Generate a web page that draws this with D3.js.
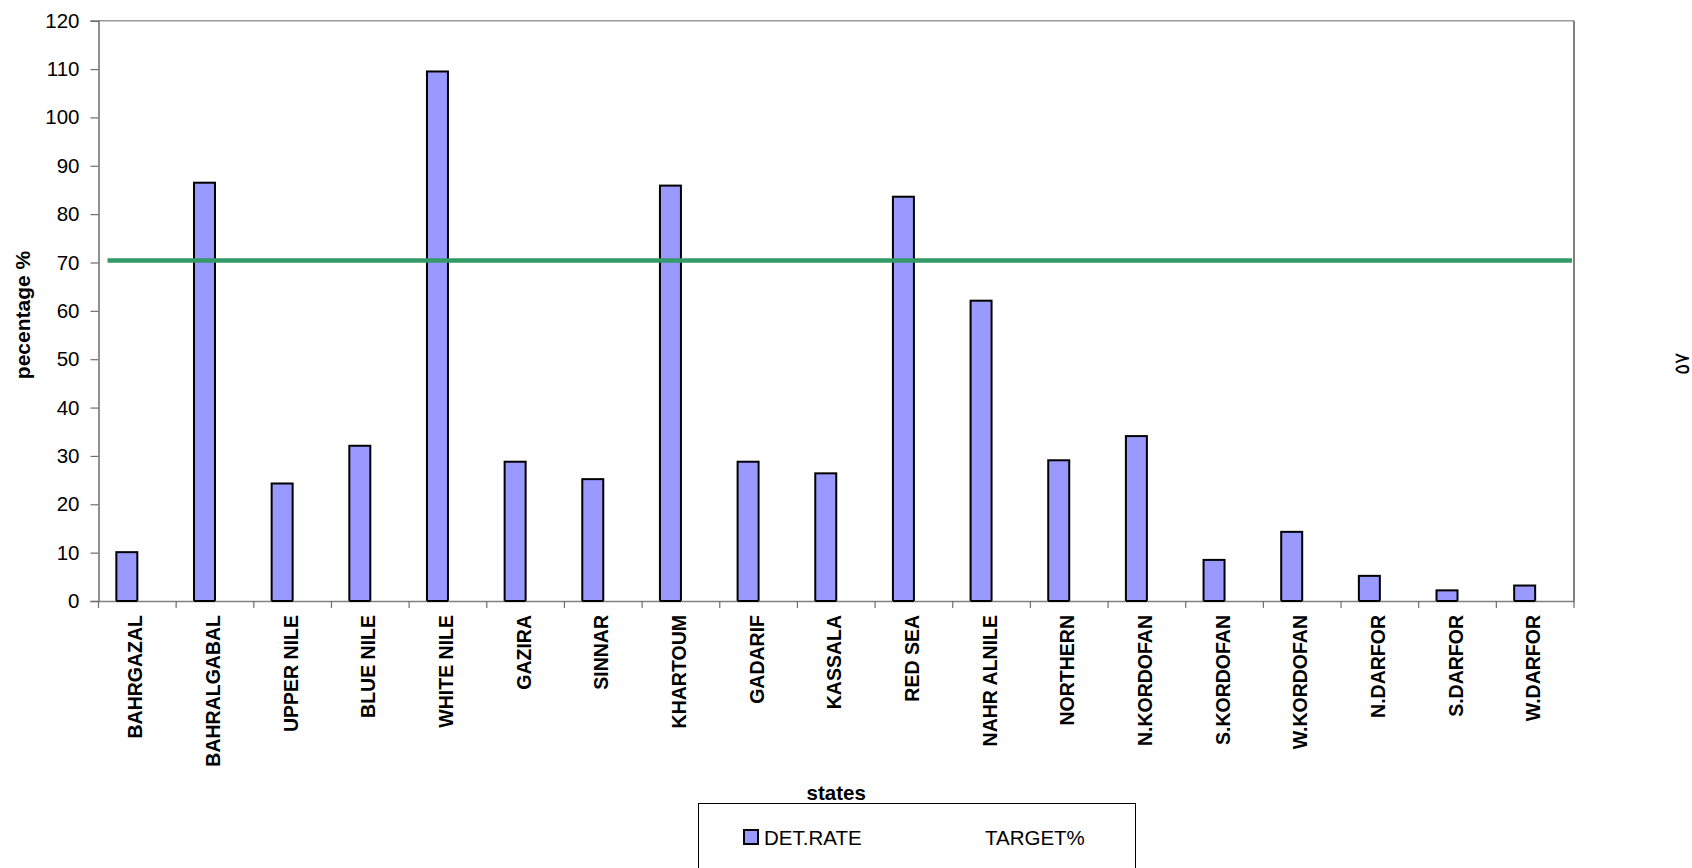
<!DOCTYPE html>
<html><head><meta charset="utf-8">
<script src="https://cdn.jsdelivr.net/npm/d3@7/dist/d3.min.js"></script>
<style>body{margin:0;background:#fff}svg{display:block}text{font-family:"Liberation Sans",Arial,sans-serif}</style>
</head><body>
<svg id="c" width="1692" height="868"></svg>
<script>
const states = ["BAHRGAZAL","BAHRALGABAL","UPPER NILE","BLUE NILE","WHITE NILE","GAZIRA","SINNAR","KHARTOUM","GADARIF","KASSALA","RED SEA","NAHR ALNILE","NORTHERN","N.KORDOFAN","S.KORDOFAN","W.KORDOFAN","N.DARFOR","S.DARFOR","W.DARFOR"];
const detRate = [10.1,86.5,24.3,32.1,109.5,28.8,25.2,85.9,28.8,26.4,83.6,62.1,29.1,34.1,8.5,14.3,5.2,2.2,3.2];
const target = 70.4;
const yTicks = [0,10,20,30,40,50,60,70,80,90,100,110,120];
const seriesNames = ["DET.RATE","TARGET%"];

const svg = d3.select("#c");
const L = 98.5, R = 1574, T = 20.7, B = 601;
const x = d3.scaleBand().domain(states).range([L, R]).padding(0);
const xs = d3.scaleBand().domain(seriesNames).range([0, x.bandwidth()]).paddingInner(0).paddingOuter(0.85);
const y = d3.scaleLinear().domain([0,120]).range([B, T]);

// plot frame (top & right)
svg.append("line").attr("x1",L).attr("x2",R).attr("y1",T).attr("y2",T).attr("stroke","#9a9a9a").attr("stroke-width",1.5);
svg.append("line").attr("x1",R).attr("x2",R).attr("y1",T).attr("y2",B).attr("stroke","#808080").attr("stroke-width",2);

// y axis
const ya = svg.append("g").attr("transform",`translate(${L},0)`)
  .call(d3.axisLeft(y).tickValues(yTicks).tickSize(8).tickPadding(11));
ya.select(".domain").attr("stroke","#6e6e6e").attr("stroke-width",1.5);
ya.selectAll(".tick line").attr("stroke","#6e6e6e").attr("stroke-width",1.2);
ya.selectAll(".tick text").attr("font-size",20.5).attr("fill","#000").attr("font-family","Liberation Sans, Arial, sans-serif");

// bars
svg.append("g").selectAll("rect").data(states).join("rect")
  .attr("x", d => x(d) + xs("DET.RATE"))
  .attr("width", xs.bandwidth())
  .attr("y", (d,i) => y(detRate[i]))
  .attr("height", (d,i) => B - y(detRate[i]))
  .attr("fill","#9999FF").attr("stroke","#000").attr("stroke-width",2);

// x axis
const xa = svg.append("g").attr("transform",`translate(0,${B})`)
  .call(d3.axisBottom(x).tickSize(0).tickFormat(""));
xa.select(".domain").attr("stroke","#808080").attr("stroke-width",1.5);
const bounds = states.map(d => x(d)).concat([x.range()[1]]);
svg.append("g").selectAll("line").data(bounds).join("line")
  .attr("x1",d=>d).attr("x2",d=>d).attr("y1",B).attr("y2",B+7)
  .attr("stroke","#6e6e6e").attr("stroke-width",1.2);
svg.append("g").selectAll("line").data(states).join("line")
  .attr("x1", d => x(d) + xs("DET.RATE")).attr("x2", d => x(d) + xs("DET.RATE") + xs.bandwidth())
  .attr("y1", B).attr("y2", B).attr("stroke","#000").attr("stroke-width",2);

// x labels
svg.append("g").selectAll("text").data(states).join("text")
  .attr("transform", d => `translate(${x(d)+x.bandwidth()/2+5},615) rotate(-90)`)
  .attr("text-anchor","end").attr("font-size",19.5).attr("font-weight","bold").text(d=>d);

// target line
svg.append("line").attr("x1", x.range()[0]+9).attr("x2", x.range()[1]-2)
  .attr("y1", y(target)).attr("y2", y(target))
  .attr("stroke","#339966").attr("stroke-width",4.5);

// axis titles
svg.append("text").attr("transform",`translate(29.5,315) rotate(-90)`)
  .attr("text-anchor","middle").attr("font-size",21).attr("font-weight","bold").text("pecentage %");
svg.append("text").attr("x",(L+R)/2).attr("y",800).attr("text-anchor","middle")
  .attr("font-size",20.5).attr("font-weight","bold").text("states");

// legend
svg.append("rect").attr("x",698.5).attr("y",803.5).attr("width",437).attr("height",90)
  .attr("fill","#fff").attr("stroke","#000").attr("stroke-width",1);
svg.append("rect").attr("x",744).attr("y",830).attr("width",14).attr("height",14)
  .attr("fill","#9999FF").attr("stroke","#000").attr("stroke-width",2);
svg.append("text").attr("x",764).attr("y",845).attr("font-size",20.5).text(seriesNames[0]);
svg.append("text").attr("x",985).attr("y",845).attr("font-size",20.5).text(seriesNames[1]);

// page number
svg.append("text").attr("transform","translate(1689,364) rotate(-90)")
  .attr("text-anchor","middle").attr("font-size",21).attr("font-family","DejaVu Sans, sans-serif").text("٥٧");
</script>
</body></html>
